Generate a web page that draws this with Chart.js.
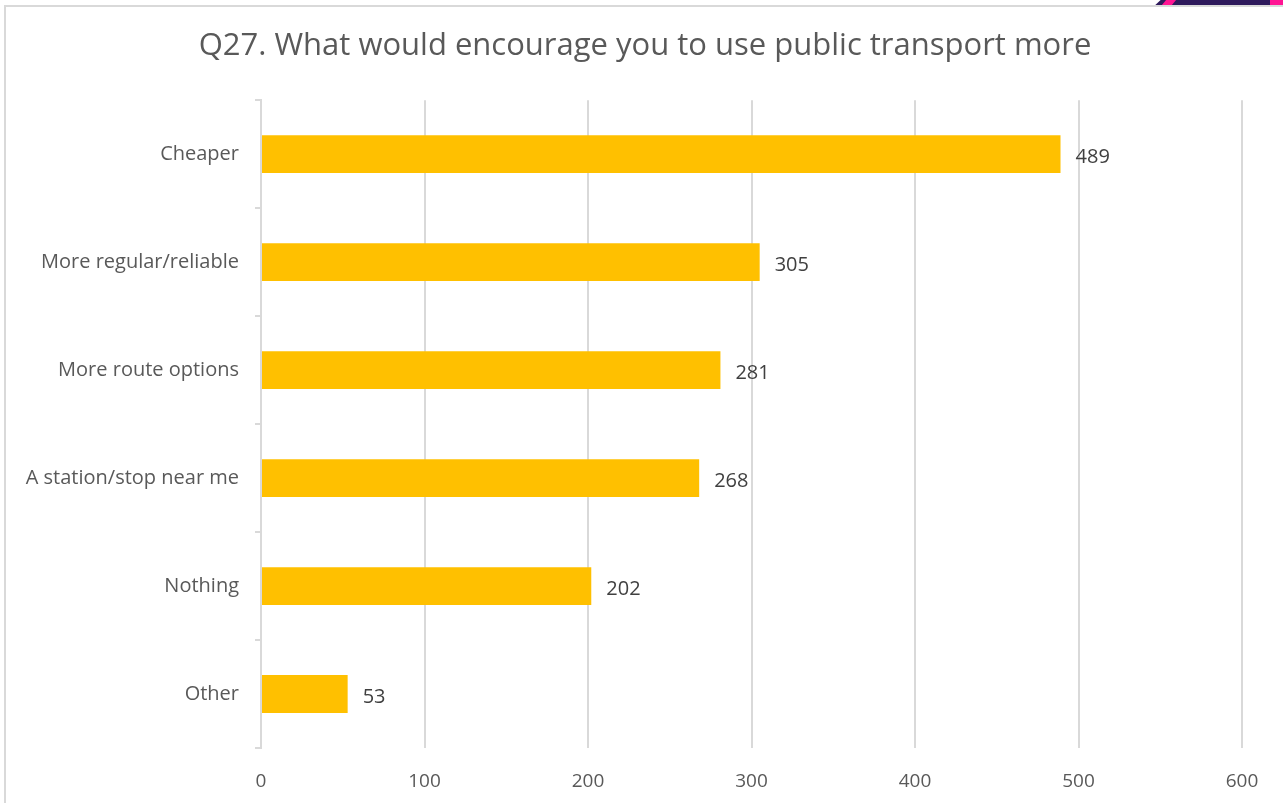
<!DOCTYPE html>
<html>
<head>
<meta charset="utf-8">
<script src="https://cdn.jsdelivr.net/npm/chart.js@4"></script>
<style>
  html, body { margin: 0; padding: 0; background: #fff; overflow: hidden; }
  #wrap { position: relative; width: 1283px; height: 803px; }
  #frame { position: absolute; left: 4px; top: 5px; width: 1300px; height: 820px; border: 2px solid #d9d9d9; box-sizing: border-box; pointer-events: none; }
  #deco { position: absolute; left: 1150px; top: 0; width: 133px; height: 5px; background: #2e1a5c; clip-path: polygon(4% 100%, 8% 0, 100% 0, 100% 100%); }
  #deco .p1 { position: absolute; left: 14px; top: 0; width: 10px; height: 5px; background: #ff1493; transform: skewX(-40deg); }
  #deco .p2 { position: absolute; left: 120px; top: 0; width: 13px; height: 5px; background: #ff1493; }
  canvas { position: absolute; left: 0; top: 0; }
</style>
</head>
<body>
<div id="wrap">
  <canvas id="c" width="1283" height="803"></canvas>
  <div id="frame"></div>
  <div id="deco"><div class="p1"></div><div class="p2"></div></div>
</div>
<script>
const categories = ["Cheaper", "More regular/reliable", "More route options", "A station/stop near me", "Nothing", "Other"];
const values = [489, 305, 281, 268, 202, 53];
const xTicks = [0, 100, 200, 300, 400, 500, 600];
const titleText = "Q27. What would encourage you to use public transport more";

const textColor = "#595959";
const fontFamily = "'Open Sans', 'Liberation Sans', sans-serif";

const valueLabels = {
  id: "valueLabels",
  afterDatasetsDraw(chart) {
    const ctx = chart.ctx;
    const meta = chart.getDatasetMeta(0);
    ctx.save();
    ctx.font = "20px " + fontFamily;
    ctx.fillStyle = "#404040";
    ctx.textAlign = "left";
    ctx.textBaseline = "middle";
    meta.data.forEach((bar, i) => {
      ctx.fillText(String(values[i]), bar.x + 15, bar.y + 3);
    });
    ctx.restore();
  }
};

const titleShift = {
  id: "titleShift",
  afterLayout(chart) {
    if (chart.titleBlock) {
      chart.titleBlock.left = 48;
      chart.titleBlock.right = chart.chartArea.right;
    }
  }
};

new Chart(document.getElementById("c"), {
  type: "bar",
  data: {
    labels: categories,
    datasets: [{
      data: values,
      backgroundColor: "#FFC000",
      borderWidth: 0,
      barPercentage: 0.35,
      categoryPercentage: 1.0
    }]
  },
  options: {
    indexAxis: "y",
    responsive: false,
    animation: false,
    devicePixelRatio: 1,
    layout: { padding: { left: 0, right: 41, top: 0, bottom: 0 } },
    plugins: {
      legend: { display: false },
      tooltip: { enabled: false },
      title: {
        display: true,
        text: titleText,
        color: textColor,
        font: { family: fontFamily, size: 31, weight: "normal" },
        padding: { top: 28, bottom: 35 }
      }
    },
    scales: {
      x: {
        min: 0,
        max: 600,
        afterBuildTicks(scale) { scale.ticks = xTicks.map(v => ({ value: v })); },
        afterFit(scale) { scale.height = 55; },
        border: { display: false },
        grid: {
          color: (c) => c.tick && c.tick.value === 0 ? "rgba(0,0,0,0)" : "#d9d9d9",
          lineWidth: 2,
          drawTicks: false
        },
        ticks: {
          color: textColor,
          font: { family: fontFamily, size: 19 },
          padding: 22,
          maxRotation: 0
        }
      },
      y: {
        afterFit(scale) { scale.width = 261; },
        border: { display: true, color: "#d9d9d9", width: 2 },
        grid: {
          offset: true,
          drawOnChartArea: false,
          drawTicks: true,
          tickLength: 6,
          color: "#d9d9d9",
          lineWidth: 2
        },
        ticks: {
          color: textColor,
          font: { family: fontFamily, size: 20 },
          padding: 16
        }
      }
    }
  },
  plugins: [valueLabels, titleShift]
});
</script>
</body>
</html>
